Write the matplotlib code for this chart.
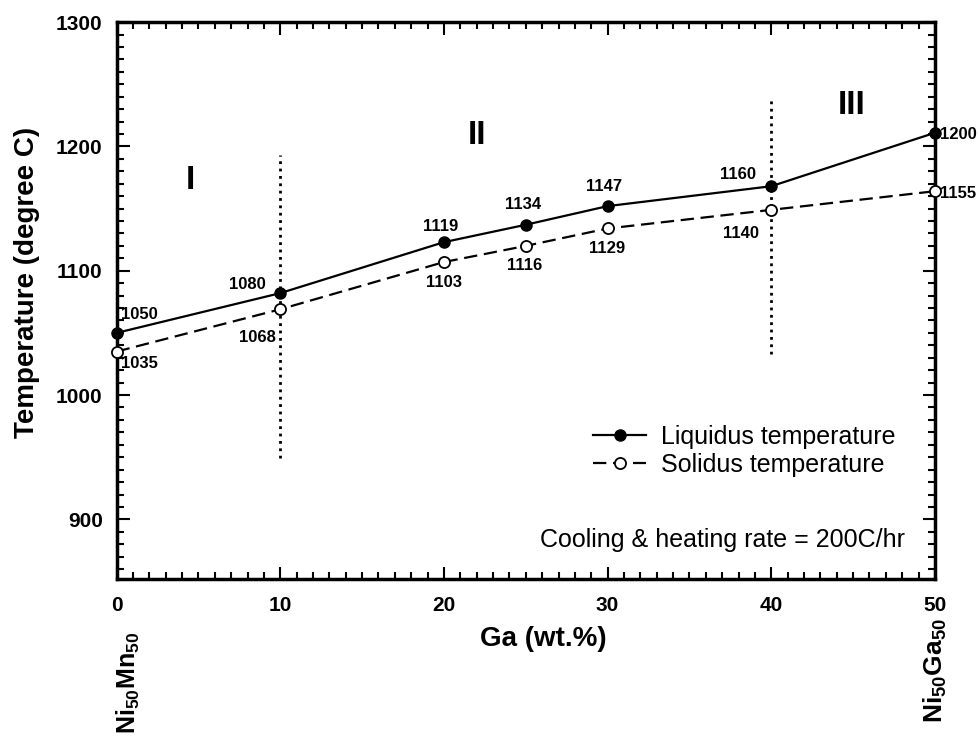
import matplotlib
matplotlib.use("Agg")
from matplotlib import pyplot as plt
from matplotlib.ticker import MultipleLocator
import numpy as np

plt.rcParams['font.family'] = ['Liberation Sans', 'DejaVu Sans']
plt.rcParams['mathtext.fontset'] = 'custom'
plt.rcParams['mathtext.rm'] = 'Liberation Sans'
plt.rcParams['mathtext.bf'] = 'Liberation Sans:bold'

# composition (wt.% Ga)
ga = [0, 10, 20, 25, 30, 40, 50]
# plotted positions
liquidus = [1050, 1082, 1123, 1137, 1152, 1168, 1211]
solidus = [1035, 1069, 1107, 1120, 1134, 1149, 1164]
# printed labels next to the points
liq_labels = ['1050', '1080', '1119', '1134', '1147', '1160', '1200']
sol_labels = ['1035', '1068', '1103', '1116', '1129', '1140', '1155']
# label offsets in pixels
liq_offsets = [(23, 18), (-33, 9), (-3, 16), (-3, 20), (-4, 20), (-33, 12), (23, -2)]
sol_offsets = [(23, -12), (-23, -28), (0, -20), (-1, -20), (-1, -20), (-30, -24), (23, -2)]

fig = plt.figure(figsize=(9.8, 7.38), dpi=100)
ax = fig.add_axes([0.119, 0.2154, 0.835, 0.7546])

ax.plot(ga, liquidus, '-', color='black', lw=1.6, marker='o', ms=8,
        mfc='black', mec='black', label='Liquidus temperature', clip_on=False, zorder=5)
ax.plot(ga, solidus, '--', color='black', lw=1.6, dashes=(6, 3), marker='o', ms=8,
        mfc='white', mec='black', mew=1.3, label='Solidus temperature', clip_on=False, zorder=5)

for x, y, t, off in zip(ga, liquidus, liq_labels, liq_offsets):
    ax.annotate(t, (x, y), xytext=off, textcoords='offset pixels',
                ha='center', va='center', fontsize=12, fontweight='bold')
for x, y, t, off in zip(ga, solidus, sol_labels, sol_offsets):
    ax.annotate(t, (x, y), xytext=off, textcoords='offset pixels',
                ha='center', va='center', fontsize=12, fontweight='bold')

# region boundaries
ax.plot([10, 10], [949, 1193], ':', color='black', lw=2)
ax.plot([40, 40], [1033, 1240], ':', color='black', lw=2)
ax.text(4.5, 1173, 'I', fontsize=24, fontweight='bold', ha='center', va='center')
ax.text(22, 1209, 'II', fontsize=24, fontweight='bold', ha='center', va='center')
ax.text(44.9, 1233, 'III', fontsize=24, fontweight='bold', ha='center', va='center')

ax.set_xlim(0, 50)
ax.set_ylim(852, 1300)
ax.set_yticks([900, 1000, 1100, 1200, 1300])
ax.set_xticks([0, 10, 20, 30, 40, 50])
ax.xaxis.set_minor_locator(MultipleLocator(1))
ax.yaxis.set_minor_locator(MultipleLocator(10))
ax.tick_params(which='both', direction='in', top=True, right=True, width=1.5)
ax.tick_params(which='major', length=9)
ax.tick_params(axis='y', which='major', labelsize=15, pad=10)
ax.tick_params(axis='x', which='major', labelsize=15, pad=12)
ax.tick_params(which='minor', length=5)
for lab in ax.get_xticklabels() + ax.get_yticklabels():
    lab.set_fontweight('bold')
for s in ax.spines.values():
    s.set_linewidth(2.5)

ax.set_ylabel('Temperature (degree C)', fontsize=20, fontweight='bold')
ax.yaxis.set_label_coords(-0.094, 0.533)
ax.set_xlabel('Ga (wt.%)', fontsize=20, fontweight='bold')
ax.xaxis.set_label_coords(0.521, -0.085)

fig.text(0.131, 0.005, r'$\mathbf{Ni_{50}Mn_{50}}$', rotation=90, fontsize=18,
         ha='center', va='bottom')
fig.text(0.954, 0.02, r'$\mathbf{Ni_{50}Ga_{50}}$', rotation=90, fontsize=19,
         ha='center', va='bottom')

ax.legend(loc='center right', bbox_to_anchor=(0.97, 0.23), frameon=False,
          fontsize=18, handlelength=2.1, handletextpad=0.6, labelspacing=0.15,
          borderpad=0.1)
ax.text(0.963, 0.07, 'Cooling & heating rate = 200C/hr', transform=ax.transAxes,
        ha='right', va='center', fontsize=18)

fig.savefig('out.png', dpi=100)
